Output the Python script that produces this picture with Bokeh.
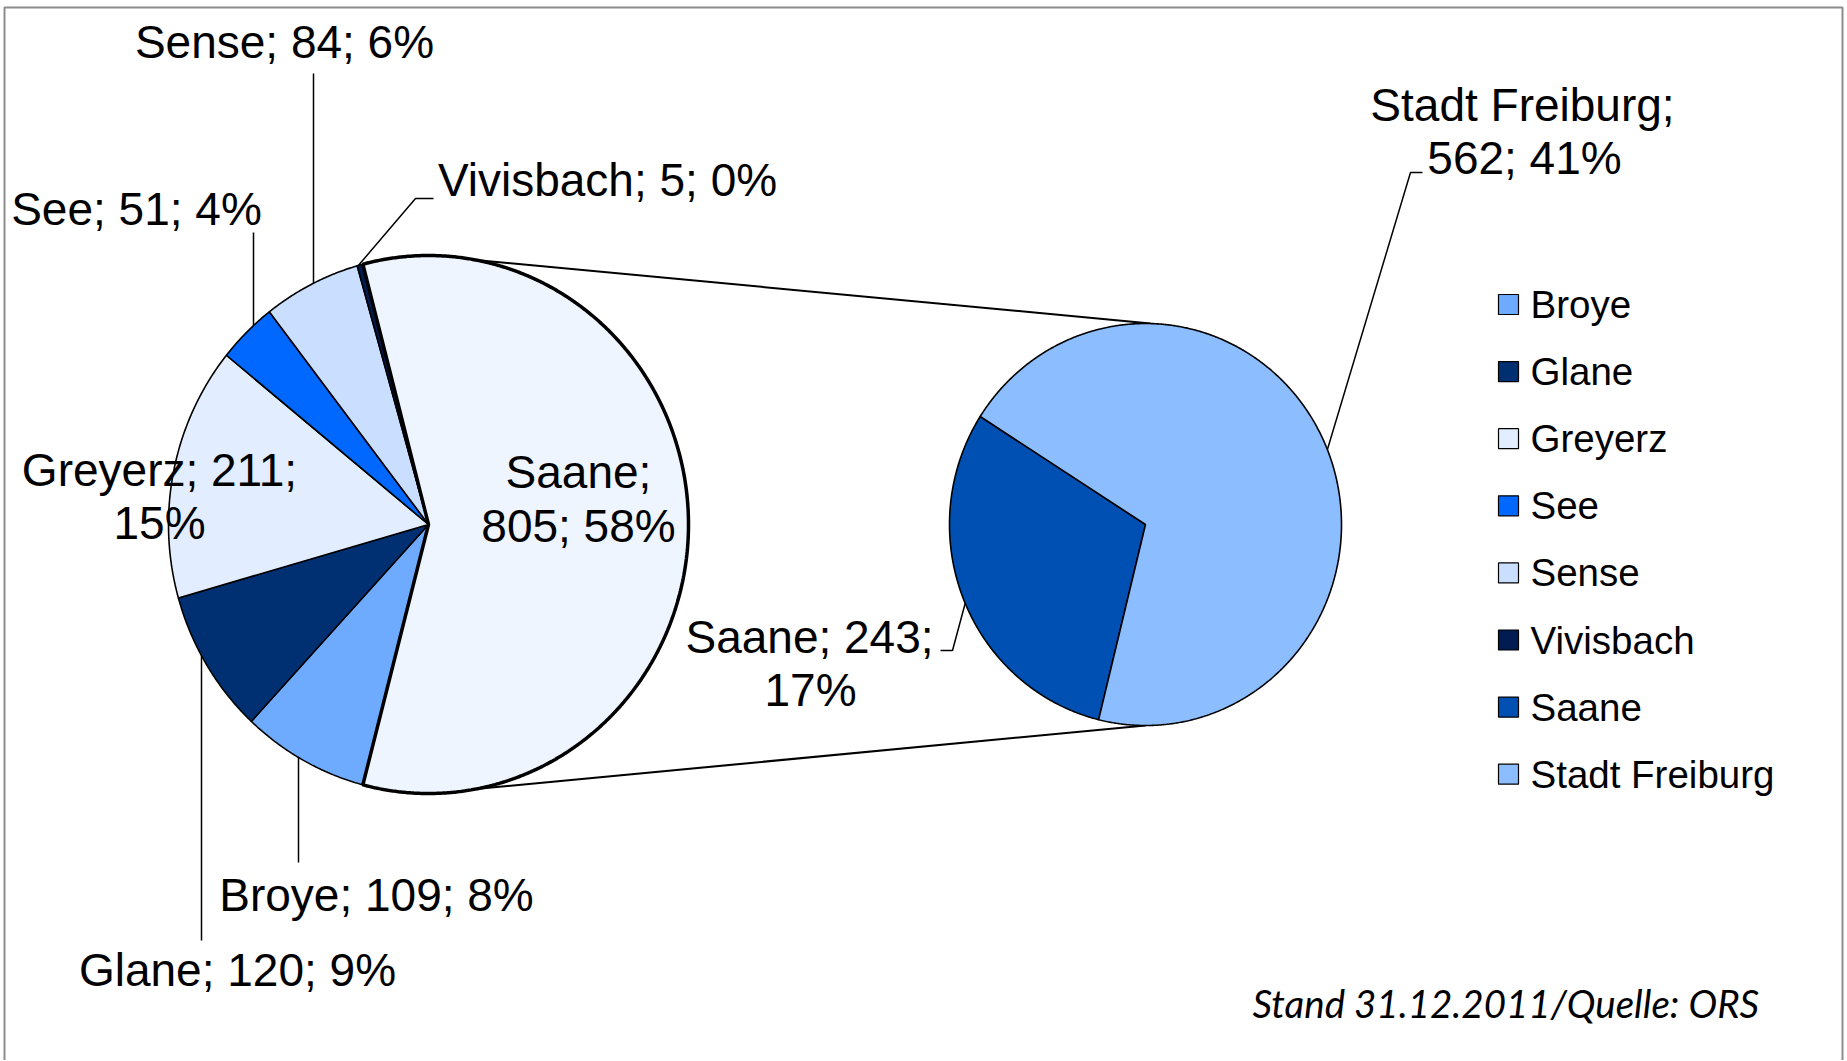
import numpy as np
from bokeh.plotting import figure
from bokeh.models import Range1d
from bokeh.core.properties import value
from bokeh.embed import file_html
from bokeh.resources import INLINE

# ---------------- data ----------------
main_names = ["Broye", "Glane", "Greyerz", "See", "Sense", "Vivisbach", "Saane"]
main_values = [109, 120, 211, 51, 84, 5, 805]
main_pcts = [8, 9, 15, 4, 6, 0, 58]
sub_names = ["Saane", "Stadt Freiburg"]
sub_values = [243, 562]
sub_pcts = [17, 41]
legend_names = ["Broye", "Glane", "Greyerz", "See", "Sense", "Vivisbach", "Saane", "Stadt Freiburg"]
footnote = "Stand 31.12.2011/Quelle: ORS"

# ---------------- styles ----------------
main_colors = ["#6EABFF", "#003072", "#E2EEFF", "#0068FF", "#CADFFF", "#001B52", "#EEF5FF"]
sub_colors = ["#0050B3", "#8CBEFF"]
legend_colors = main_colors[:6] + sub_colors
FONT = "Liberation Sans"

W, H = 1846, 1060
p = figure(width=W, height=H, x_range=Range1d(0, W), y_range=Range1d(H, 0),
           output_backend="svg", toolbar_location=None, min_border=0,
           x_axis_location=None, y_axis_location=None)
p.grid.visible = False
p.outline_line_color = None
p.background_fill_color = "white"
p.border_fill_color = "white"

# frame
p.line([4, 4, 1842, 1842], [H + 5, 7, 7, H + 5], line_color="#8C8C8C", line_width=2)

# geometry
c1x, c1y, r1x, r1y = 428, 524, 260, 269
c2x, c2y, r2x, r2y = 1145, 524, 196, 201


def wedge(cx, cy, rx, ry, a0, a1):
    n = max(4, int(abs(a1 - a0) * 3))
    t = np.radians(np.linspace(a0, a1, n))
    xs = [cx] + list(cx + rx * np.cos(t)) + [cx]
    ys = [cy] + list(cy - ry * np.sin(t)) + [cy]
    return xs, ys


# connector lines
p.line([c1x, c2x + 5], [c1y - r1y, c2y - r2y], line_color="black", line_width=2)
p.line([c1x, c2x], [c1y + r1y, c2y + r2y], line_color="black", line_width=2)

# leader lines (drawn below pies)
leaders = [
    ([313, 313], [73, 290]),                 # Sense
    ([253, 253], [232, 330]),                # See
    ([433, 415, 357], [198, 198, 266]),      # Vivisbach
    ([201, 201], [650, 940]),                # Glane
    ([298, 298], [750, 862]),                # Broye
    ([940, 952, 966], [650, 650, 598]),      # Saane 243
    ([1422, 1410, 1326], [172, 172, 452]),   # Stadt Freiburg
]
for lx, ly in leaders:
    p.line(lx, ly, line_color="black", line_width=1.5)

# main pie
total = sum(main_values)
half = main_values[-1] / total * 180.0
xs_all, ys_all = [], []
a = -half
for v in main_values[:-1]:
    span = v / total * 360.0
    xs, ys = wedge(c1x, c1y, r1x, r1y, a - span, a)
    xs_all.append(xs); ys_all.append(ys)
    a -= span
p.patches(xs_all, ys_all, fill_color=main_colors[:-1], line_color="black", line_width=1.6)
xs, ys = wedge(c1x, c1y, r1x, r1y, -half, half)
p.patch(xs, ys, fill_color=main_colors[-1], line_color="black", line_width=3.5)

# second pie
stotal = sum(sub_values)
start = 147.5
xs_all, ys_all = [], []
a = start
for v in sub_values:
    span = v / stotal * 360.0
    xs, ys = wedge(c2x, c2y, r2x, r2y, a, a + span)
    xs_all.append(xs); ys_all.append(ys)
    a += span
p.patches(xs_all, ys_all, fill_color=sub_colors, line_color="black", line_width=1.6)

# labels
lab = {n: f"{n}; {v}; {pc}%" for n, v, pc in zip(main_names, main_values, main_pcts)}
single = [
    (lab["Sense"], 284, 41),
    (lab["Vivisbach"], 607, 179),
    (lab["See"], 136, 208),
    (lab["Broye"], 376, 894),
    (lab["Glane"], 237, 969),
]
p.text(x=[s[1] for s in single], y=[s[2] for s in single], text=[s[0] for s in single],
       text_font=value(FONT), text_font_size="46px", text_align="center",
       text_baseline="middle", text_color="black")

two = [
    (f"{main_names[2]}; {main_values[2]};", 159, 469), (f"{main_pcts[2]}%", 159, 522),
    (f"{main_names[6]};", 578, 471), (f"{main_values[6]}; {main_pcts[6]}%", 578, 525),
    (f"{sub_names[0]}; {sub_values[0]};", 809, 636), (f"{sub_pcts[0]}%", 810, 689),
    (f"{sub_names[1]};", 1522, 104), (f"{sub_values[1]}; {sub_pcts[1]}%", 1524, 157),
]
p.text(x=[s[1] for s in two], y=[s[2] for s in two], text=[s[0] for s in two],
       text_font=value(FONT), text_font_size="46px", text_align="center",
       text_baseline="middle", text_color="black")

# legend
ly = [304 + 67.1 * i for i in range(len(legend_names))]
p.scatter(x=[1508] * len(legend_names), y=ly, marker="square", size=20,
          fill_color=legend_colors, line_color="black", line_width=1.2)
p.text(x=[1530] * len(legend_names), y=ly, text=legend_names,
       text_font=value(FONT), text_font_size="38.5px", text_align="left",
       text_baseline="middle", text_color="black")

# footnote
p.text(x=[1252], y=[1002], text=[footnote], text_font=value("Lato"),
       text_font_style="italic", text_font_size="38.5px", text_align="left",
       text_baseline="middle", text_color="black")

open("out.html", "w").write(file_html(p, INLINE))
